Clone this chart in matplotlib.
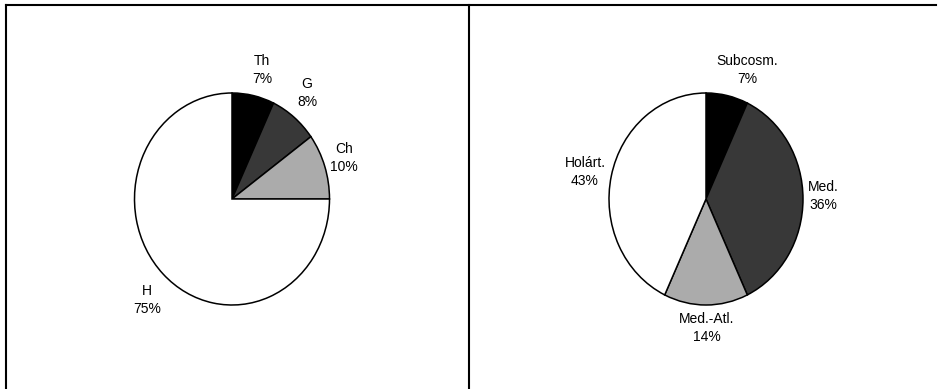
import matplotlib.pyplot as plt
from matplotlib.lines import Line2D

plt.rcParams['font.family'] = ['Liberation Sans', 'DejaVu Sans']

# life forms
life_labels = ['Th', 'G', 'Ch', 'H']
life_values = [7, 8, 10, 75]

# floristic elements
flora_labels = ['Subcosm.', 'Med.', 'Med.-Atl.', 'Holárt.']
flora_values = [7, 36, 14, 43]

colors = ['#000000', '#383838', '#ababab', '#ffffff']

W, H = 941, 389
fig = plt.figure(figsize=(W / 100, H / 100), dpi=100)

def pie_axes(cx, cy, rx, ry):
    # full-figure axes, scaled so the unit pie lands at (cx, cy) with radii rx, ry pixels
    ax = fig.add_axes([0, 0, 1, 1])
    ax.patch.set_alpha(0)
    return ax, (-cx / rx, (W - cx) / rx), (-(H - cy) / ry, cy / ry)

def draw(values, labels, cx, cy, rx, ry, label_pos):
    ax, xl, yl = pie_axes(cx, cy, rx, ry)
    ax.pie(values, colors=colors, startangle=90, counterclock=False,
           wedgeprops=dict(edgecolor='black', linewidth=1.1))
    ax.set_xlim(*xl)
    ax.set_ylim(*yl)
    ax.set_aspect('auto')
    ax.axis('off')
    for lab, v, (px, py) in zip(labels, values, label_pos):
        fig.text(px / W, 1 - py / H, f'{lab}\n{v}%', ha='center', va='center',
                 fontsize=10, linespacing=1.35)

draw(life_values, life_labels, 232, 199, 97.5, 106,
     [(262, 70), (307, 93), (344, 158), (147, 300)])
draw(flora_values, flora_labels, 706, 199, 97, 106,
     [(747, 70), (823, 196), (707, 328), (585, 172)])

# panel frame
for x0, y0, x1, y1 in [(6, 5, 936, 5), (6, 5, 6, H), (469, 5, 469, H)]:
    fig.add_artist(Line2D([x0 / W, x1 / W], [1 - y0 / H, 1 - y1 / H],
                          color='black', linewidth=1.5))

fig.savefig('out.png', dpi=100)
